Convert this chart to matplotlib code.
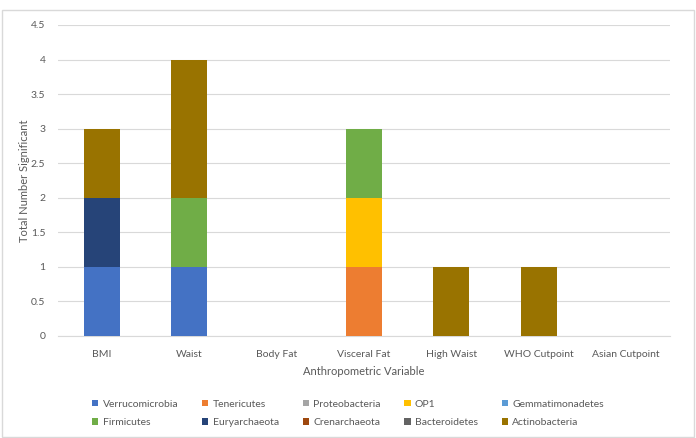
import numpy as np
import matplotlib
matplotlib.use("Agg")
import matplotlib.pyplot as plt
from matplotlib.patches import Rectangle

plt.rcParams['font.family'] = ['Lato', 'DejaVu Sans']

categories = ["BMI", "Waist", "Body Fat", "Visceral Fat", "High Waist",
              "WHO Cutpoint", "Asian Cutpoint"]

phyla = ["Verrucomicrobia", "Tenericutes", "Proteobacteria", "OP1",
         "Gemmatimonadetes", "Firmicutes", "Euryarchaeota", "Crenarchaeota",
         "Bacteroidetes", "Actinobacteria"]

verrucomicrobia = [1, 1, 0, 0, 0, 0, 0]
tenericutes = [0, 0, 0, 1, 0, 0, 0]
proteobacteria = [0, 0, 0, 0, 0, 0, 0]
op1 = [0, 0, 0, 1, 0, 0, 0]
gemmatimonadetes = [0, 0, 0, 0, 0, 0, 0]
firmicutes = [0, 1, 0, 1, 0, 0, 0]
euryarchaeota = [1, 0, 0, 0, 0, 0, 0]
crenarchaeota = [0, 0, 0, 0, 0, 0, 0]
bacteroidetes = [0, 0, 0, 0, 0, 0, 0]
actinobacteria = [1, 2, 0, 0, 1, 1, 0]

series = [verrucomicrobia, tenericutes, proteobacteria, op1, gemmatimonadetes,
          firmicutes, euryarchaeota, crenarchaeota, bacteroidetes, actinobacteria]

colors = ["#4472C4", "#ED7D31", "#A5A5A5", "#FFC000", "#5B9BD5",
          "#70AD47", "#264478", "#9E480E", "#636363", "#997300"]

text_color = "#595959"

fig = plt.figure(figsize=(6.96, 4.38), dpi=100)
ax = fig.add_axes([0.0833, 0.2329, 0.8793, 0.7101])

# chart frame like the excel chart area
fig.patches.append(Rectangle((0.003, 0.002), 0.994, 0.975, transform=fig.transFigure,
                             fill=False, edgecolor="#D9D9D9", linewidth=1.0))

x = np.arange(len(categories))
bottom = np.zeros(len(categories))
for name, vals, col in zip(phyla, series, colors):
    vals = np.array(vals, dtype=float)
    ax.bar(x, vals, 0.41, bottom=bottom, color=col, label=name, zorder=3)
    bottom += vals

ax.set_xlim(-0.5, len(categories) - 0.5)
ax.set_ylim(0, 4.5)
ax.set_yticks(np.arange(0, 4.51, 0.5))
ax.set_yticklabels(["0", "0.5", "1", "1.5", "2", "2.5", "3", "3.5", "4", "4.5"])
ax.set_xticks(x)
ax.set_xticklabels(categories)

ax.grid(axis="y", color="#D9D9D9", linewidth=0.8, zorder=0)
for side in ["top", "right", "left"]:
    ax.spines[side].set_visible(False)
ax.spines["bottom"].set_color("#D9D9D9")
ax.tick_params(axis="both", length=0, labelsize=7.5, colors=text_color)
ax.tick_params(axis="x", pad=10)
ax.tick_params(axis="y", pad=9)

ax.set_xlabel("Anthropometric Variable", fontsize=8, color=text_color, labelpad=5)
ax.set_ylabel("Total Number Significant", fontsize=8, color=text_color, labelpad=1)

# excel fills the legend row by row
handles, labels = ax.get_legend_handles_labels()
order = [i + r * 5 for i in range(5) for r in range(2)]
ax.legend([handles[i] for i in order], [labels[i] for i in order],
          loc="upper center", bbox_to_anchor=(0.5, 0.097), bbox_transform=fig.transFigure,
          ncol=5, frameon=False, fontsize=7.5, labelcolor=text_color,
          handlelength=0.6, handleheight=0.6, handletextpad=0.4,
          columnspacing=2.3, borderaxespad=0, labelspacing=0.9)

fig.savefig("out.png", dpi=100)
